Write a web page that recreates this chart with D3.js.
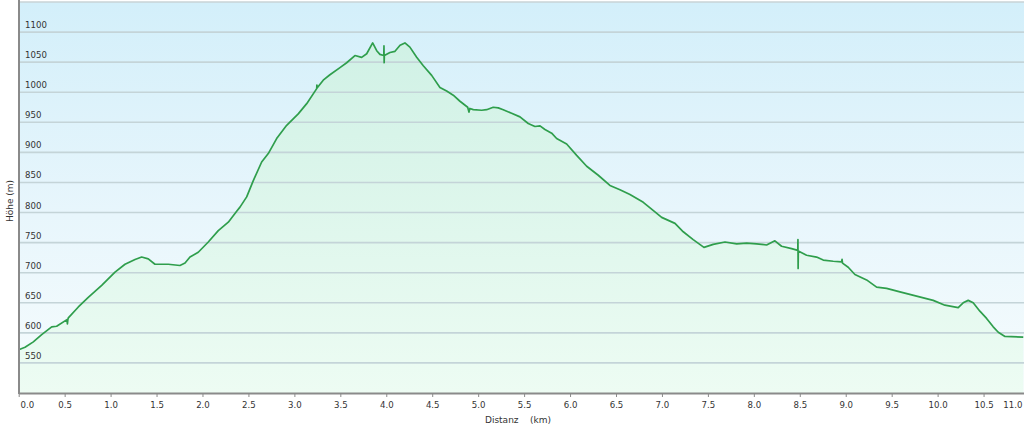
<!DOCTYPE html>
<html><head><meta charset="utf-8">
<script src="https://cdn.jsdelivr.net/npm/d3@7"></script>
<style>html,body{margin:0;padding:0;background:#fff;}svg{display:block;}</style>
</head><body>
<svg id="chart" width="1024" height="427"></svg>
<script>
// distance (km) along the track
const distanceKm = [0,0.069,0.159,0.250,0.359,0.413,0.525,0.530,0.535,0.540,0.649,0.757,0.903,1.048,1.157,1.266,1.338,1.410,1.483,1.628,1.755,1.810,1.864,1.954,2.063,2.172,2.281,2.372,2.408,2.481,2.553,2.644,2.716,2.807,2.916,3.042,3.134,3.243,3.245,3.247,3.314,3.387,3.496,3.569,3.659,3.732,3.787,3.852,3.896,3.931,3.973,3.975,3.977,3.979,4.040,4.095,4.150,4.203,4.257,4.331,4.403,4.494,4.584,4.657,4.729,4.802,4.886,4.900,4.910,4.947,5.038,5.092,5.164,5.219,5.273,5.364,5.455,5.545,5.618,5.673,5.727,5.800,5.854,5.963,6.072,6.181,6.307,6.434,6.543,6.652,6.797,6.924,6.997,7.142,7.232,7.340,7.457,7.558,7.686,7.813,7.922,8.030,8.139,8.229,8.302,8.411,8.478,8.480,8.482,8.484,8.574,8.683,8.755,8.864,8.955,8.960,8.965,9.027,9.100,9.227,9.336,9.445,9.590,9.771,9.952,10.079,10.224,10.278,10.333,10.387,10.460,10.533,10.605,10.660,10.733,10.932];
// elevation (m)
const elevationM = [572,576,585,597,610,611,622,615,622,625,643,659,679,701,714,722,726,723,714,714,712,716,726,734,751,770,784,802,809,826,853,884,898,923,945,964,981,1006,1012,1007,1020,1029,1041,1049,1061,1058,1064,1082,1069,1063,1061,1077,1049,1061,1066,1068,1078,1082,1075,1058,1044,1028,1008,1002,995,985,975,967,973,971,970,971,975,974,971,965,959,948,943,944,938,932,923,914,895,877,862,845,838,830,817,801,792,782,768,755,742,747,751,748,749,748,746,753,744,740,737,755,707,736,729,726,721,719,718,722,716,709,697,688,676,674,668,661,654,646,642,650,654,650,636,624,610,601,594,593];
const yTickValues = [550,600,650,700,750,800,850,900,950,1000,1050,1100];
const xTickValues = [0,0.5,1,1.5,2,2.5,3,3.5,4,4.5,5,5.5,6,6.5,7,7.5,8,8.5,9,9.5,10,10.5,11];
const xTitle = "Distanz    (km)";
const yTitle = "Höhe (m)";

const svg = d3.select("#chart");
const mLeft = 18.7, mRight = 1024, mTop = 2, mBottom = 393;

const x = d3.scaleLinear().domain([0, 10.94]).range([mLeft, mRight]);
const y = d3.scaleLinear().domain([500, 1150]).range([mBottom, mTop]);

const defs = svg.append("defs");
const bg = defs.append("linearGradient").attr("id","bg").attr("x1",0).attr("y1",0).attr("x2",0).attr("y2",1);
bg.append("stop").attr("offset","0%").attr("stop-color","#d3effa");
bg.append("stop").attr("offset","55%").attr("stop-color","#e8f6fc");
bg.append("stop").attr("offset","100%").attr("stop-color","#f6fcfd");
const ag = defs.append("linearGradient").attr("id","ag").attr("gradientUnits","userSpaceOnUse")
  .attr("x1",0).attr("y1",mTop).attr("x2",0).attr("y2",mBottom);
ag.append("stop").attr("offset","0%").attr("stop-color","#cdf0e4");
ag.append("stop").attr("offset","100%").attr("stop-color","#edfcf3");

svg.append("rect").attr("x",mLeft).attr("y",mTop).attr("width",mRight-mLeft).attr("height",mBottom-mTop).attr("fill","url(#bg)");
svg.append("line").attr("x1",mLeft).attr("x2",mRight).attr("y1",mTop).attr("y2",mTop).attr("stroke","#c9d3d6").attr("stroke-width",1.5);

const data = distanceKm.map((d,i)=>({d, e: elevationM[i]}));

svg.append("path").datum(data)
  .attr("d", d3.area().x(p=>x(p.d)).y0(y(500)).y1(p=>y(p.e)))
  .attr("fill","url(#ag)");

svg.append("g").selectAll("line").data(yTickValues).join("line")
  .attr("x1",mLeft).attr("x2",mRight).attr("y1",d=>y(d)).attr("y2",d=>y(d))
  .attr("stroke","#c4d4d8").attr("stroke-width",1.6);

svg.append("g").selectAll("text").data(yTickValues).join("text")
  .attr("x",25).attr("y",d=>y(d)-4)
  .attr("font-family","DejaVu Sans, Verdana, sans-serif").attr("font-size","8.6px").attr("fill","#333")
  .text(d=>d);

svg.append("path").datum(data)
  .attr("d", d3.line().x(p=>x(p.d)).y(p=>y(p.e)))
  .attr("fill","none").attr("stroke","#2f9e4c").attr("stroke-width",1.7).attr("stroke-linejoin","round");

const xAxis = svg.append("g").attr("transform",`translate(0,${mBottom})`)
  .call(d3.axisBottom(x).tickValues(xTickValues).tickFormat(d3.format(".1f")).tickSizeInner(4).tickSizeOuter(0).tickPadding(5));
xAxis.select(".domain").attr("stroke","#8a8a8a").attr("stroke-width",2);
xAxis.selectAll(".tick line").attr("stroke","#8a8a8a");
xAxis.selectAll(".tick text").attr("font-family","DejaVu Sans, Verdana, sans-serif").attr("font-size","8.6px").attr("fill","#333");
xAxis.selectAll(".tick").each(function(d){
  if (x(d) > mRight) { d3.select(this).select("line").remove(); }
  const t = d3.select(this).select("text");
  const bb = t.node().getBBox();
  const cx = x(d);
  if (cx + bb.x < 20) t.attr("x", 20 - (cx + bb.x));
  if (cx + bb.x + bb.width > 1022) t.attr("x", 1022 - (cx + bb.x + bb.width));
});

svg.append("line").attr("x1",19).attr("x2",19).attr("y1",0).attr("y2",mBottom+1)
  .attr("stroke","#8a8a8a").attr("stroke-width",2);

svg.append("text").attr("x",518).attr("y",423).attr("text-anchor","middle")
  .attr("font-family","DejaVu Sans, Verdana, sans-serif").attr("font-size","9px").attr("fill","#333")
  .style("white-space","pre").text(xTitle);
svg.append("text").attr("transform","translate(13,201) rotate(-90)").attr("text-anchor","middle")
  .attr("font-family","DejaVu Sans, Verdana, sans-serif").attr("font-size","9px").attr("fill","#333")
  .text(yTitle);
</script>
</body></html>
